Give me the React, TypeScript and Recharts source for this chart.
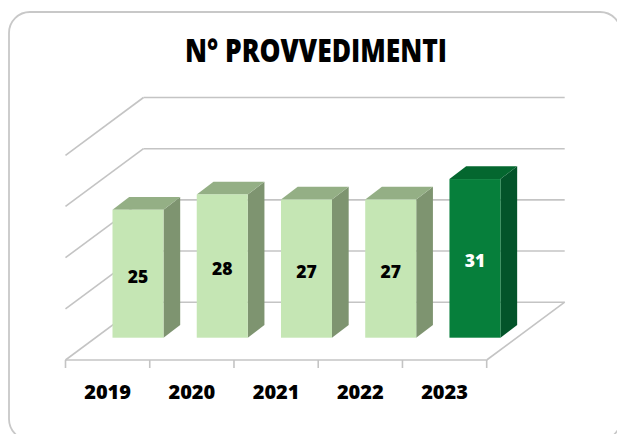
import React from 'react';
import { BarChart, Bar, XAxis, YAxis, CartesianGrid, LabelList } from 'recharts';

const years = ['2019', '2020', '2021', '2022', '2023'];
const provvedimenti = [25, 28, 27, 27, 31];
const yTicks = [0, 10, 20, 30, 40];

const data = years.map((year, i) => ({ year, value: provvedimenti[i] }));

const W = 617;
const H = 434;
// plane where the bars stand
const PLOT = { left: 95.5, right: 516.7, top: 133, bottom: 337.7 };
// offsets from the bar plane to the back wall and to the front edge
const BACK = { dx: 48, dy: -35.5 };
const FRONT = { dx: -30, dy: 22.3 };
// depth of a single bar
const DEPTH = { dx: 16.7, dy: -12.7 };
const AXIS_H = 30;
const GRID = '#c4c4c4';
const FONT = '"Open Sans", "DejaVu Sans", sans-serif';

const light = { front: '#c5e6b4', side: '#7e9470', top: '#94af85' };
const dark = { front: '#067f3b', side: '#03542a', top: '#04672f' };

function GridLine(props: any) {
  const { x1, x2, y1 } = props;
  const y = y1;
  const bx1 = x1 + BACK.dx;
  const bx2 = x2 + BACK.dx;
  const by = y + BACK.dy;
  const fx1 = x1 + FRONT.dx;
  const fx2 = x2 + FRONT.dx;
  const fy = y + FRONT.dy;
  const isFloor = Math.abs(y - PLOT.bottom) < 1;
  return (
    <g stroke={GRID} strokeWidth={1.6} fill="none">
      <line x1={bx1} y1={by} x2={bx2} y2={by} />
      <line x1={bx1} y1={by} x2={fx1} y2={fy} />
      {isFloor && <line x1={fx1} y1={fy} x2={fx2} y2={fy} />}
      {isFloor && <line x1={bx2} y1={by} x2={fx2} y2={fy} />}
    </g>
  );
}

function Bar3D(props: any) {
  const { x, y, width, height, index } = props;
  const c = index === years.length - 1 ? dark : light;
  const { dx, dy } = DEPTH;
  const top = `${x},${y} ${x + dx},${y + dy} ${x + width + dx},${y + dy} ${x + width},${y}`;
  const side = `${x + width},${y} ${x + width + dx},${y + dy} ${x + width + dx},${y + height + dy} ${x + width},${y + height}`;
  return (
    <g>
      <polygon points={side} fill={c.side} />
      <polygon points={top} fill={c.top} />
      <rect x={x} y={y} width={width} height={height} fill={c.front} />
    </g>
  );
}

function ValueLabel(props: any) {
  const { x, y, width, height, value, index } = props;
  return (
    <text
      x={x + width / 2}
      y={y + height / 2 + 2}
      textAnchor="middle"
      dominantBaseline="central"
      fontFamily={FONT}
      fontWeight={800}
      fontSize={17.5}
      fill={index === years.length - 1 ? '#ffffff' : '#000000'}
    >
      {value}
    </text>
  );
}

function YearTick(props: any) {
  const { x, payload, index } = props;
  const band = (PLOT.right - PLOT.left) / years.length;
  const cx = x + FRONT.dx;
  const baseY = PLOT.bottom + FRONT.dy;
  const left = cx - band / 2;
  const right = cx + band / 2;
  return (
    <g>
      <line x1={left} y1={baseY} x2={left} y2={baseY + 8} stroke={GRID} strokeWidth={1.6} />
      {index === years.length - 1 && (
        <line x1={right} y1={baseY} x2={right} y2={baseY + 8} stroke={GRID} strokeWidth={1.6} />
      )}
      <text x={cx} y={baseY + 39} textAnchor="middle" fontFamily={FONT} fontWeight={800} fontSize={20} fill="#000">
        {payload.value}
      </text>
    </g>
  );
}

export default function App() {
  return (
    <div style={{ position: 'absolute', left: 0, top: 0, width: W, height: H, background: '#fff' }}>
      <svg width={W} height={H} style={{ position: 'absolute', left: 0, top: 0 }}>
        <rect x={9} y={12} width={612} height={428} rx={21} ry={21} fill="#fff" stroke="#c8c8c8" strokeWidth={1.8} />
        <text
          x={316}
          y={61.5}
          textAnchor="middle"
          fontFamily={FONT}
          fontWeight={800}
          fontSize={31}
          textLength={262}
          lengthAdjust="spacingAndGlyphs"
          fill="#000"
        >
          N° PROVVEDIMENTI
        </text>
      </svg>
      <div style={{ position: 'absolute', left: 0, top: 0 }}>
        <BarChart
          width={W}
          height={H}
          data={data}
          barSize={51}
          margin={{ top: PLOT.top, left: PLOT.left, right: W - PLOT.right, bottom: H - PLOT.bottom - AXIS_H }}
        >
          <CartesianGrid vertical={false} horizontal={(p: any) => <GridLine key={p.key ?? p.index} {...p} />} />
          <YAxis hide domain={[0, 40]} ticks={yTicks} />
          <XAxis dataKey="year" height={AXIS_H} axisLine={false} tickLine={false} tick={<YearTick />} interval={0} />
          <Bar dataKey="value" shape={<Bar3D />} isAnimationActive={false}>
            <LabelList dataKey="value" content={<ValueLabel />} />
          </Bar>
        </BarChart>
      </div>
    </div>
  );
}
